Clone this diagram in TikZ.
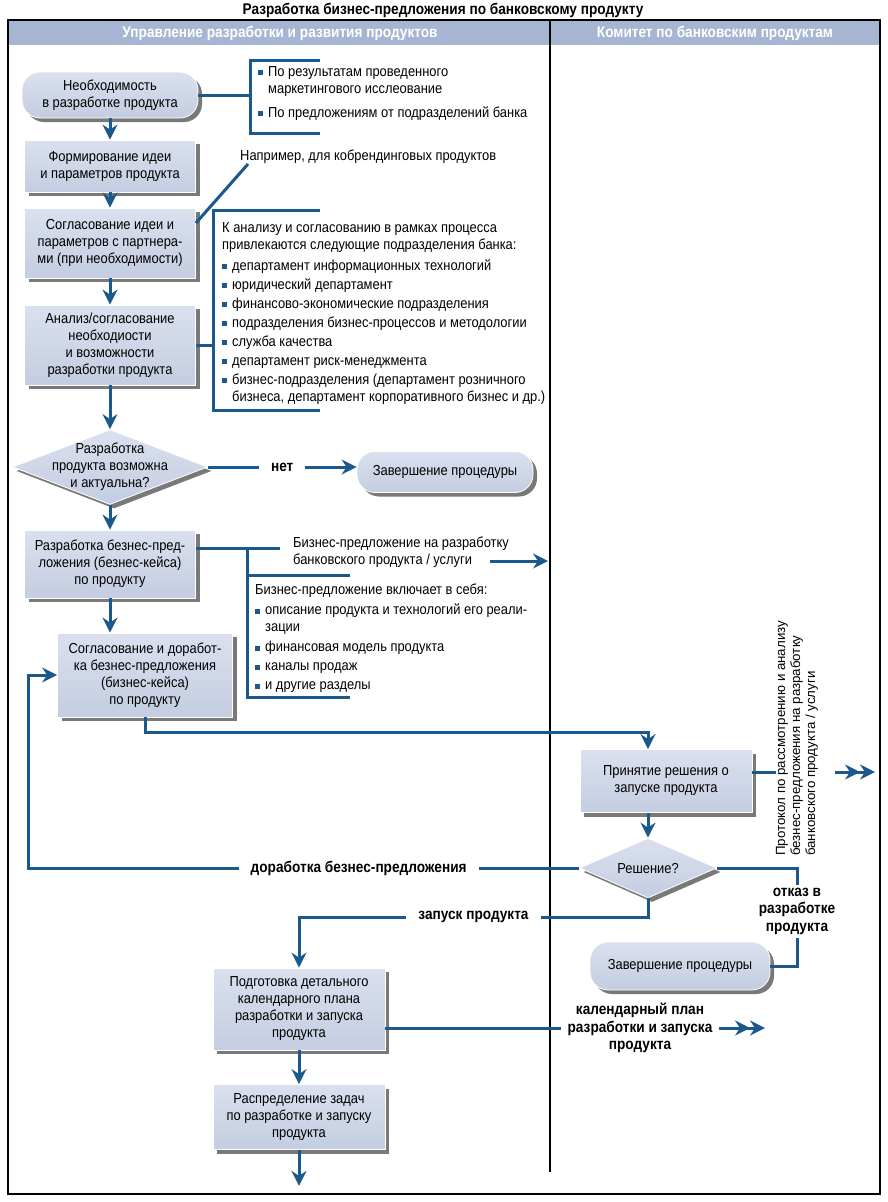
\documentclass[tikz,border=0pt]{standalone}
\usepackage{fontspec}
\setmainfont{Liberation Sans}[FakeStretch=0.89]
\newfontfamily\condbf{Liberation Sans}[FakeStretch=0.88]
\newfontfamily\widefont{Liberation Sans}
\usepackage{tikz}
\usetikzlibrary{arrows.meta}
\usetikzlibrary{shapes, shadows}

\definecolor{boxtop}{RGB}{218,224,238}
\definecolor{boxbot}{RGB}{196,205,225}
\definecolor{linec}{RGB}{27,88,140}
\definecolor{headfill}{RGB}{166,181,209}

\newcommand{\blt}{\textcolor{linec}{\rule[1pt]{5pt}{5pt}}\hspace{5pt}}

\tikzset{
  box/.style={rectangle, draw=white, line width=0.8pt, top color=boxtop, bottom color=boxbot,
    align=center, minimum width=171pt, inner sep=3pt,
    drop shadow={shadow xshift=4pt, shadow yshift=-4pt, opacity=0.7, fill=black!75}},
  term/.style={box, rounded corners=18pt},
  decision/.style={diamond, draw=white, line width=0.8pt, top color=boxtop, bottom color=boxbot,
    inner sep=0pt,
    drop shadow={shadow xshift=4pt, shadow yshift=-4pt, opacity=0.7, fill=black!75}},
  lbl/.style={font=\condbf\bfseries\fontsize{15.5}{17.5}\selectfont, fill=white, align=center,
    inner xsep=12pt},
  note/.style={align=left, anchor=north west, inner sep=0pt},
  flow/.style={draw=linec, line width=3pt},
}

\begin{document}
\begin{tikzpicture}[x=1pt,y=-1pt,>={Stealth[length=15pt,width=15pt,inset=5pt]},
  node distance=71pt, font=\fontsize{14.5}{17}\selectfont]
\useasboundingbox (0,0) rectangle (887,1202);

% frame and lanes
\node[font=\condbf\bfseries\fontsize{15.5}{17}\selectfont] (title) at (443,10)
  {Разработка бизнес-предложения по банковскому продукту};
\fill[headfill] (8,20) rectangle (880,45);
\draw[line width=1.5pt] (8,20) rectangle (880,1194);
\draw[line width=1.2pt] (550,20) -- (550,1172);
\node[text=white, font=\condbf\bfseries\fontsize{15.5}{17}\selectfont] (laneA) at (280,33)
  {Управление разработки и развития продуктов};
\node[text=white, font=\condbf\bfseries\fontsize{15.5}{17}\selectfont] (laneB) at (715,33)
  {Комитет по банковским продуктам};

% main column
\node[term, minimum width=176pt, minimum height=46pt] (need) at (110,95)
  {Необходимость\\в разработке продукта};
\node[box, minimum height=52pt] (idea) [below of=need] {Формирование идеи\\и параметров продукта};
\node[box, minimum height=70pt] (partner) [below of=idea, node distance=77pt]
  {Согласование идеи и\\параметров с партнера-\\ми (при необходимости)};
\node[box, minimum height=80pt] (analysis) [below of=partner, node distance=102pt]
  {Анализ/согласование\\необходиости\\и возможности\\разработки продукта};
\node[decision, minimum width=195pt, minimum height=75pt,
  label={[align=center]center:{Разработка\\продукта возможна\\и актуальна?}}]
  (possible) [below of=analysis, node distance=122pt] {};
\node[term, minimum width=176pt, minimum height=41pt] (stop1) at (445,472) {Завершение процедуры};
\node[box, minimum height=68pt] (case) [below of=possible, node distance=97pt]
  {Разработка безнес-пред-\\ложения (безнес-кейса)\\по продукту};
\node[box, minimum width=175pt, minimum height=84pt] (revise) at (145,675)
  {Согласование и доработ-\\ка безнес-предложения\\(бизнес-кейса)\\по продукту};
\node[box, minimum width=172pt, minimum height=63pt] (decide) at (666,781)
  {Принятие решения о\\запуске продукта};
\node[decision, minimum width=137pt, minimum height=60pt, label={center:Решение?}] (answer) at (648,868) {};
\node[term, minimum width=180pt, minimum height=48pt] (stop2) at (680,966) {Завершение процедуры};
\node[box, minimum width=172pt, minimum height=82pt] (plan) at (299,1009)
  {Подготовка детального\\календарного плана\\разработки и запуска\\продукта};
\node[box, minimum width=172pt, minimum height=65pt] (tasks) [below of=plan, node distance=108pt]
  {Распределение задач\\по разработке и запуску\\продукта};

% notes
\node[note] (why) at (258,66)
  {\blt По результатам проведенного\\\hspace*{10pt}маркетингового исслеование\\[7pt]\blt По предложениям от подразделений банка};
\node[anchor=west, inner sep=0pt] (cobrand) at (240,157) {Например, для кобрендинговых продуктов};
\node[note] (units) at (222,222)
  {К анализу и согласованию в рамках процесса\\привлекаются следующие подразделения банка:\\[4pt]
   \blt департамент информационных технологий\\[2pt]
   \blt юридический департамент\\[2pt]
   \blt финансово-экономические подразделения\\[2pt]
   \blt подразделения бизнес-процессов и методологии\\[2pt]
   \blt служба качества\\[2pt]
   \blt департамент риск-менеджмента\\[2pt]
   \blt бизнес-подразделения (департамент розничного\\\hspace*{10pt}бизнеса, департамент корпоративного бизнес и др.)};
\node[anchor=west, align=left, inner sep=0pt] (offer) at (293,552)
  {Бизнес-предложение на разработку\\банковского продукта / услуги};
\node[note] (contents) at (255,584)
  {Бизнес-предложение включает в себя:\\[3pt]
   \blt описание продукта и технологий его реали-\\\hspace*{10pt}зации\\[3pt]
   \blt финансовая модель продукта\\[2pt]
   \blt каналы продаж\\[2pt]
   \blt и другие разделы};
\node[rotate=90, anchor=west, align=left, inner sep=0pt,
  font=\widefont\fontsize{13.3}{15}\selectfont] (protocol) at (797,856)
  {Протокол по рассмотрению и анализу\\безнес-предложения на разработку\\банковского продукта / услуги};
\node[lbl, inner xsep=6pt] (cal) at (640,1028) {календарный план\\разработки и запуска\\продукта};

\coordinate (br1) at (250,95);
\coordinate (br2) at (213,345);
\coordinate (bp) at (280,548);
\coordinate (offerA) at (490,561);
\coordinate (offerB) at (548,561);
\coordinate (loop) at (28,670);
\coordinate (rej) at (797,0);
\coordinate (protL) at (776,772);
\coordinate (protA) at (835,772);
\coordinate (protB) at (875,772);
\coordinate (calEnd) at (765,1028);

% brackets
\draw[flow] (320,60) -| (250,133) -- (320,133);
\draw[flow] (320,210) -| (213,410) -- (320,410);
\draw[flow] (247,548) -- (247,697) -- (350,697);
\draw[flow] (247,575) -- (350,575);
\draw[flow] (need.east) -- (br1);
\draw[flow] (analysis.east) -- (br2);
\draw[flow] ([yshift=16pt]case.east) -- (bp);
\draw[flow] ([xshift=8pt]cobrand.south west) -- ([yshift=20pt]partner.east);
\draw[flow,->] (offerA) -- (offerB);

% flow
\draw[flow,->] (need) -- (idea);
\draw[flow,->] (idea) -- (partner);
\draw[flow,->] (partner) -- (analysis);
\draw[flow,->] (analysis) -- (possible);
\draw[flow,->] (possible) -- (case);
\draw[flow,->] (possible.east) -- node[lbl] {нет} (possible.east -| stop1.west);
\draw[flow,->] (case) -- (case |- revise.north);
\draw[flow,->] (revise.south) -- ++(0,15) -| (answer.north |- decide.north);
\draw[flow,->] (answer.north |- decide.south) -- (answer.north);
\draw[flow,->] (answer.west) -- node[lbl, pos=0.4] {доработка безнес-предложения}
  (answer.west -| loop) |- (revise.west);
\draw[flow,->] (answer.south) -- ++(0,19) -| node[lbl, pos=0.25] {запуск продукта} (plan.north);
\draw[flow] (answer.east) -| node[lbl, pos=0.72, inner xsep=4pt] {отказ в\\разработке\\продукта}
  (rej |- stop2.east) -- (stop2.east);
\draw[flow] ([yshift=9pt]decide.east) -- (protL);
\draw[flow,->>] (protA) -- (protB);
\draw[flow] ([yshift=-19pt]plan.east) -- (cal.west);
\draw[flow,->>] (cal.east) -- (calEnd);
\draw[flow,->] (plan) -- (tasks);
\draw[flow,->] (tasks.south) -- ++(0,36);
\end{tikzpicture}
\end{document}
